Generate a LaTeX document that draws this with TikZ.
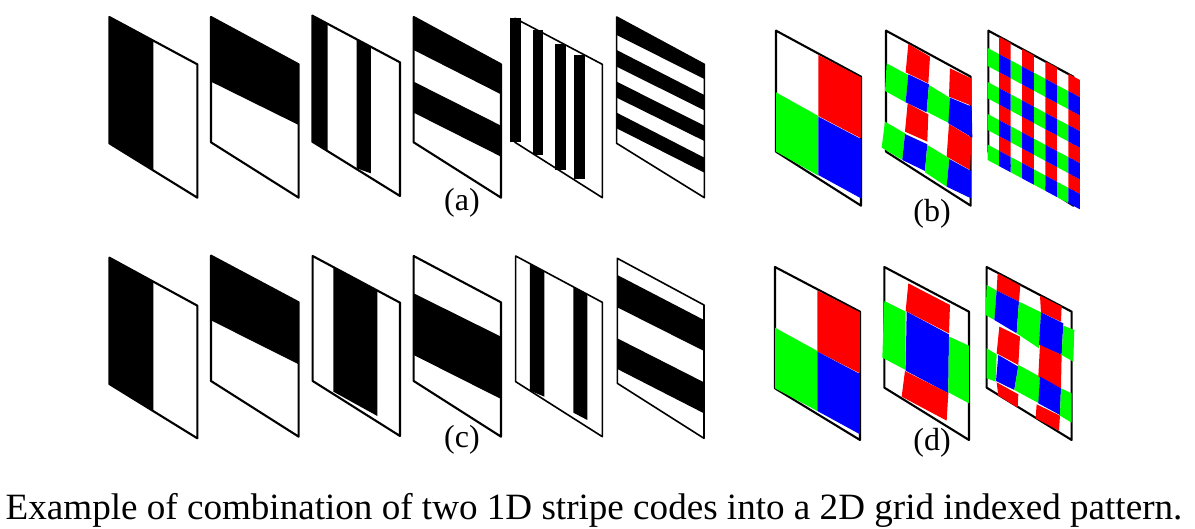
\documentclass[tikz,border=0pt]{standalone}
\usepackage{fontspec}
\setmainfont{Liberation Serif}
\definecolor{figred}{HTML}{FF0000}
\definecolor{figgreen}{HTML}{00FF00}
\definecolor{figblue}{HTML}{0000FF}
\tikzset{
  crop/.style 2 args={shift={(#1,#2)}, x=0.3333pt, y=-0.3333pt},
  figframe/.style={draw=black, line width=2.1pt, line join=round},
  figthin/.style={draw=black, line width=1.6pt, line join=round},
  figblack/.style={fill=black},
  figtag/.style={font=\fontsize{32}{36}\selectfont, inner sep=0pt},
  figcaption/.style={font=\fontsize{37.1}{42}\selectfont, inner sep=0pt},
}
% one coloured cell of the fine grid in (b)
\newcommand{\gridcell}[4]{%
  \fill[#1] ({668+34.6*#2},{47+18.5*#2+#3}) -- ({668+34.6*(#2+1)},{47+18.5*(#2+1)+#3})
    -- ({668+34.6*(#2+1)},{47+18.5*(#2+1)+#4}) -- ({668+34.6*#2},{47+18.5*#2+#4}) -- cycle;}
\begin{document}
\begin{tikzpicture}[x=1pt, y=-1pt]
  \useasboundingbox (0,0) rectangle (1195,529);
  % (a), first three
  \begin{scope}[crop={100}{5}]
    \fill[figblack] (28,36) -- (160,107) -- (160,496) -- (28,415) -- cycle;
    \draw[figframe] (28,36) -- (292,178) -- (292,578) -- (28,415) -- cycle;
    \fill[figblack] (333,36) -- (596,178) -- (596,360) -- (333,230) -- cycle;
    \draw[figframe] (333,36) -- (596,178) -- (596,578) -- (333,412) -- cycle;
    \fill[figblack] (637,32) -- (683,57) -- (683,438) -- (637,410) -- cycle;
    \fill[figblack] (770,104) -- (813,127) -- (813,505) -- (770,490) -- cycle;
    \draw[figframe] (637,32) -- (900,172) -- (900,573) -- (637,410) -- cycle;
  \end{scope}
  % (a), last three
  \begin{scope}[crop={400}{5}]
    \fill[figblack] (41,36) -- (303,178) -- (303,268) -- (41,135) -- cycle;
    \fill[figblack] (41,230) -- (303,362) -- (303,455) -- (41,323) -- cycle;
    \draw[figframe] (41,36) -- (303,178) -- (303,578) -- (41,412) -- cycle;
    \draw[figthin] (345,40) -- (607,178) -- (607,578) -- (345,412) -- cycle;
    \fill[figblack] (330,38) rectangle (362,412);
    \fill[figblack] (398,75) rectangle (430,450);
    \fill[figblack] (466,118) rectangle (497,495);
    \fill[figblack] (523,150) rectangle (555,522);
    \fill[figblack] (650,36) -- (913,178) -- (913,222) -- (650,90) -- cycle;
    \fill[figblack] (650,135) -- (913,270) -- (913,316) -- (650,185) -- cycle;
    \fill[figblack] (650,230) -- (913,362) -- (913,408) -- (650,278) -- cycle;
    \fill[figblack] (650,323) -- (913,458) -- (913,503) -- (650,370) -- cycle;
    \draw[figthin] (650,36) -- (913,178) -- (913,578) -- (650,415) -- cycle;
  \end{scope}
  % (b)
  \begin{scope}[crop={765}{15}]
    \draw[figframe] (33,47) -- (288,185) -- (288,572) -- (33,410) -- cycle;
    \fill[figred] (160,120) -- (288,187) -- (288,370) -- (160,303) -- cycle;
    \fill[figgreen] (33,232) -- (160,303) -- (160,482) -- (33,410) -- cycle;
    \fill[figblue] (160,305) -- (288,372) -- (288,550) -- (160,480) -- cycle;
    \draw[figframe] (363,47) -- (617,185) -- (617,572) -- (363,410) -- cycle;
    \fill[figred] (430,87) -- (495,125) -- (490,205) -- (422,172) -- cycle;
    \fill[figred] (555,160) -- (618,190) -- (620,272) -- (552,245) -- cycle;
    \fill[figgreen] (365,145) -- (430,180) -- (422,262) -- (360,228) -- cycle;
    \fill[figblue] (430,178) -- (492,208) -- (485,292) -- (422,262) -- cycle;
    \fill[figgreen] (492,210) -- (557,250) -- (553,325) -- (485,290) -- cycle;
    \fill[figblue] (555,248) -- (620,275) -- (622,368) -- (550,325) -- cycle;
    \fill[figred] (428,265) -- (490,298) -- (487,380) -- (420,350) -- cycle;
    \fill[figred] (552,327) -- (620,368) -- (615,465) -- (545,425) -- cycle;
    \fill[figgreen] (360,320) -- (420,355) -- (412,435) -- (350,398) -- cycle;
    \fill[figblue] (420,357) -- (487,388) -- (480,468) -- (412,435) -- cycle;
    \fill[figgreen] (487,390) -- (553,430) -- (545,515) -- (480,472) -- cycle;
    \fill[figblue] (553,432) -- (618,468) -- (618,550) -- (545,515) -- cycle;
    \draw[figframe] (670,47) -- (925,185) -- (925,572) -- (670,410) -- cycle;
    \foreach \ya/\yb in {0/52, 106/154, 203/250, 298/342} {
      \foreach \i in {1,3,5,7} \gridcell{figred}{\i}{\ya}{\yb};
    }
    \foreach \ya/\yb in {52/106, 154/203, 250/298, 342/388} {
      \foreach \i in {0,2,4,6} \gridcell{figgreen}{\i}{\ya}{\yb};
      \foreach \i in {1,3,5,7} \gridcell{figblue}{\i}{\ya}{\yb};
    }
  \end{scope}
  % (c), first three
  \begin{scope}[crop={100}{245}]
    \fill[figblack] (28,38) -- (160,110) -- (160,498) -- (28,417) -- cycle;
    \draw[figframe] (28,38) -- (292,182) -- (292,580) -- (28,417) -- cycle;
    \fill[figblack] (333,32) -- (596,172) -- (596,358) -- (333,226) -- cycle;
    \draw[figframe] (333,32) -- (596,172) -- (596,575) -- (333,408) -- cycle;
    \fill[figblack] (700,66) -- (832,136) -- (832,513) -- (700,440) -- cycle;
    \draw[figframe] (638,33) -- (900,173) -- (900,573) -- (638,408) -- cycle;
  \end{scope}
  % (c), last three
  \begin{scope}[crop={400}{245}]
    \fill[figblack] (41,145) -- (303,275) -- (303,462) -- (41,330) -- cycle;
    \draw[figframe] (41,33) -- (303,172) -- (303,575) -- (41,408) -- cycle;
    \fill[figblack] (390,56) -- (433,79) -- (433,455) -- (390,437) -- cycle;
    \fill[figblack] (520,125) -- (562,148) -- (562,525) -- (520,503) -- cycle;
    \draw[figthin] (347,33) -- (607,172) -- (607,575) -- (347,410) -- cycle;
    \fill[figblack] (652,90) -- (912,225) -- (912,318) -- (652,187) -- cycle;
    \fill[figblack] (652,280) -- (912,412) -- (912,505) -- (652,372) -- cycle;
    \draw[figthin] (652,40) -- (912,180) -- (912,580) -- (652,415) -- cycle;
  \end{scope}
  % (d)
  \begin{scope}[crop={765}{255}]
    \draw[figframe] (30,36) -- (285,170) -- (285,555) -- (30,400) -- cycle;
    \fill[figred] (157,107) -- (285,172) -- (285,355) -- (157,290) -- cycle;
    \fill[figgreen] (30,218) -- (157,288) -- (157,468) -- (30,400) -- cycle;
    \fill[figblue] (157,290) -- (285,357) -- (285,538) -- (157,468) -- cycle;
    \draw[figframe] (358,36) -- (612,170) -- (612,555) -- (358,398) -- cycle;
    \fill[figred] (430,85) -- (555,150) -- (552,235) -- (422,168) -- cycle;
    \fill[figgreen] (358,138) -- (422,170) -- (422,345) -- (352,308) -- cycle;
    \fill[figblue] (425,170) -- (552,238) -- (550,415) -- (422,347) -- cycle;
    \fill[figgreen] (552,245) -- (612,272) -- (612,445) -- (550,412) -- cycle;
    \fill[figred] (420,348) -- (550,415) -- (545,497) -- (410,425) -- cycle;
    \draw[figframe] (665,36) -- (920,170) -- (920,555) -- (665,398) -- cycle;
    \fill[figred] (698,55) -- (766,92) -- (762,140) -- (695,107) -- cycle;
    \fill[figgreen] (665,90) -- (695,107) -- (688,195) -- (662,180) -- cycle;
    \fill[figblue] (695,107) -- (762,140) -- (755,235) -- (688,195) -- cycle;
    \fill[figgreen] (762,140) -- (828,172) -- (822,280) -- (755,235) -- cycle;
    \fill[figred] (825,122) -- (890,155) -- (888,200) -- (828,172) -- cycle;
    \fill[figblue] (828,172) -- (895,205) -- (890,300) -- (822,270) -- cycle;
    \fill[figgreen] (895,212) -- (928,225) -- (925,320) -- (890,300) -- cycle;
    \fill[figred] (703,215) -- (765,245) -- (760,330) -- (695,295) -- cycle;
    \fill[figgreen] (665,280) -- (695,298) -- (692,380) -- (665,370) -- cycle;
    \fill[figblue] (700,300) -- (760,335) -- (748,405) -- (693,378) -- cycle;
    \fill[figgreen] (760,330) -- (825,365) -- (822,445) -- (748,405) -- cycle;
    \fill[figred] (825,270) -- (890,300) -- (888,400) -- (820,365) -- cycle;
    \fill[figblue] (825,365) -- (888,400) -- (885,480) -- (820,445) -- cycle;
    \fill[figgreen] (888,400) -- (920,415) -- (920,503) -- (885,482) -- cycle;
    \fill[figred] (695,382) -- (760,418) -- (758,458) -- (700,422) -- cycle;
    \fill[figred] (815,448) -- (885,482) -- (882,527) -- (812,490) -- cycle;
  \end{scope}
  % labels
  \node[figtag] (taga) at (462,203) {(a)};
  \node[figtag] (tagb) at (932,214) {(b)};
  \node[figtag] (tagc) at (462,440) {(c)};
  \node[figtag] (tagd) at (932,443) {(d)};
  \node[figcaption] (cap) at (594,510) {Example of combination of two 1D stripe codes into a 2D grid indexed pattern.};
\end{tikzpicture}
\end{document}
